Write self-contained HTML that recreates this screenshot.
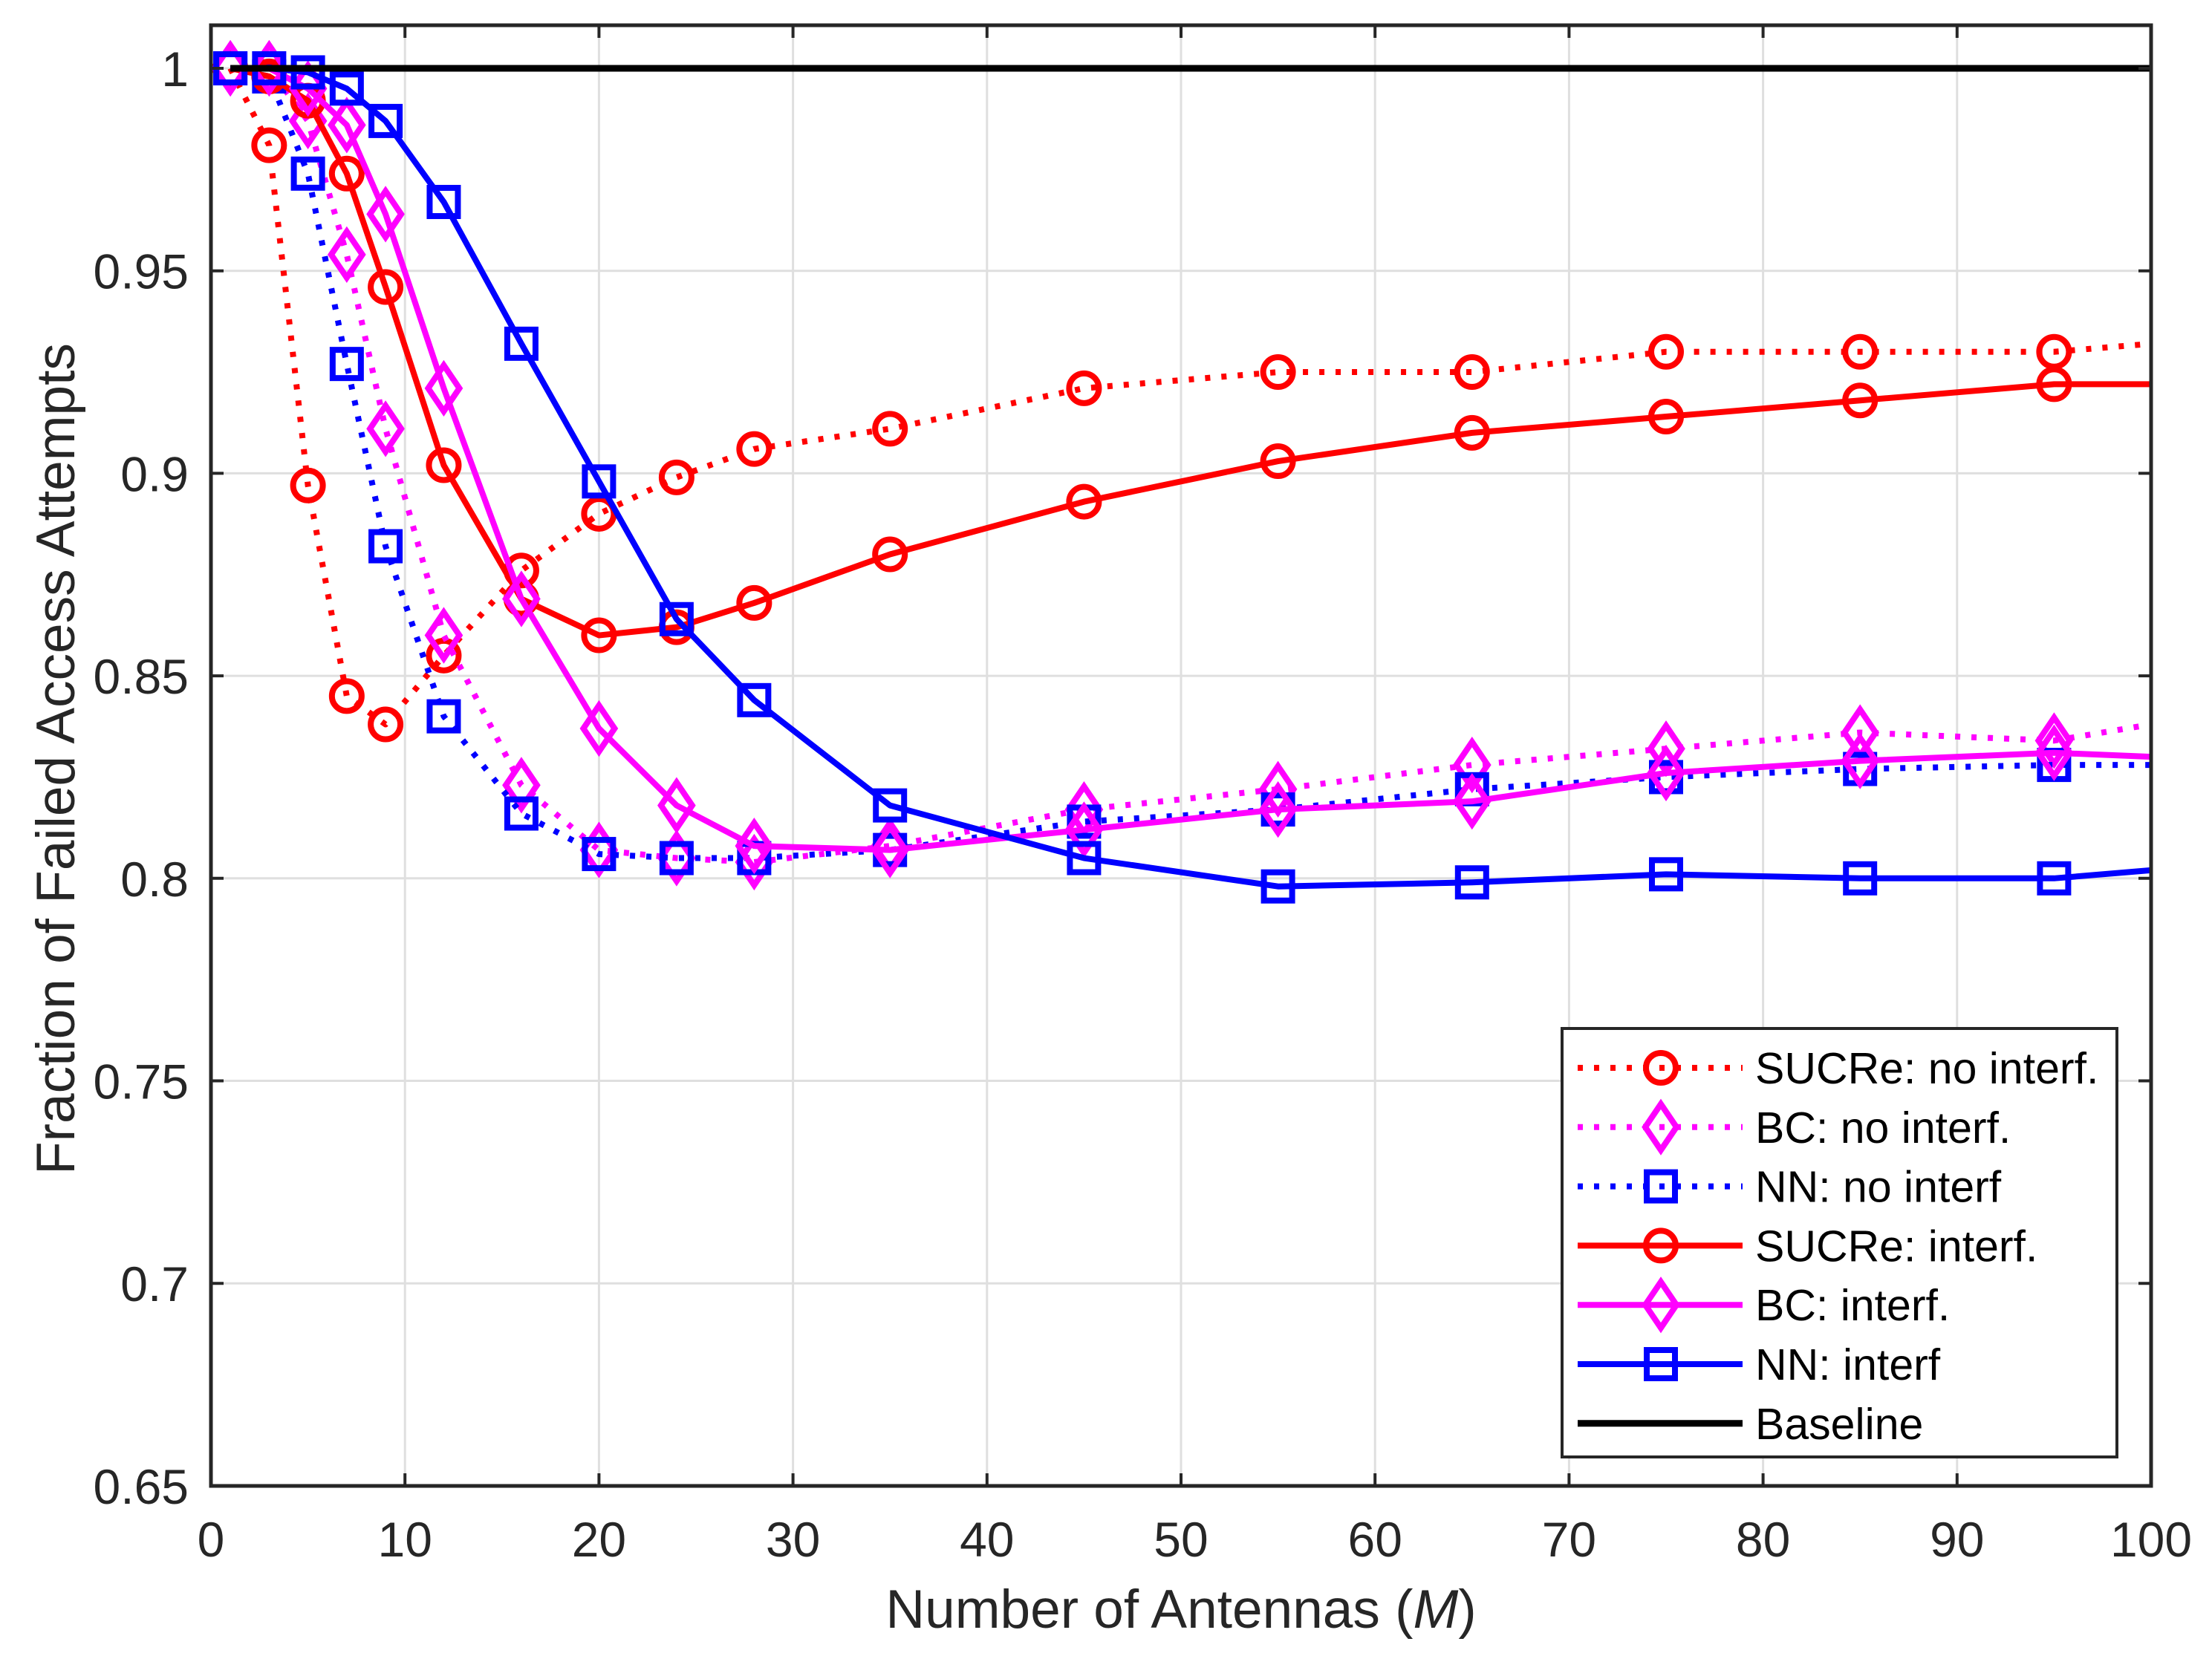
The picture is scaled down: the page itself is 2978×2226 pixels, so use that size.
<!DOCTYPE html>
<html><head><meta charset="utf-8"><style>
html,body{margin:0;padding:0;background:#fff;}
svg{display:block;font-family:"Liberation Sans",Arial,sans-serif;}
</style></head><body>
<svg id="chart" width="2978" height="2226" viewBox="0 0 2978 2226" xmlns="http://www.w3.org/2000/svg">
<rect width="2978" height="2226" fill="#fff"/>
<g id="grid"></g>
<g id="series"></g>
<g id="axes"></g>
<text x="1590" y="2192" font-size="73" text-anchor="middle" fill="#262626">Number of Antennas (<tspan font-style="italic">M</tspan>)</text>
<text transform="translate(100,1022) rotate(-90)" font-size="73" text-anchor="middle" fill="#262626">Fraction of Failed Access Attempts</text>
<g id="legend"></g>
</svg>
<script>
const xTicks=[0,10,20,30,40,50,60,70,80,90,100];
const yTicks=[0.65,0.7,0.75,0.8,0.85,0.9,0.95,1];
const yTickLabels=["0.65","0.7","0.75","0.8","0.85","0.9","0.95","1"];
const antennas=[1,3,5,7,9,12,16,20,24,28,35,45,55,65,75,85,95,100];
const sucreNoInterf=[1,0.981,0.897,0.845,0.838,0.855,0.876,0.890,0.899,0.906,0.911,0.921,0.925,0.925,0.930,0.930,0.930,0.932];
const bcNoInterf=[1,1,0.987,0.954,0.911,0.860,0.823,0.807,0.805,0.804,0.808,0.817,0.822,0.828,0.832,0.836,0.834,0.838];
const nnNoInterf=[1,0.998,0.974,0.927,0.882,0.840,0.816,0.806,0.805,0.805,0.807,0.814,0.817,0.822,0.825,0.827,0.828,0.828];
const sucreInterf=[1,0.998,0.992,0.974,0.946,0.902,0.869,0.860,0.862,0.868,0.880,0.893,0.903,0.910,0.914,0.918,0.922,0.922];
const bcInterf=[1,1,0.995,0.986,0.964,0.921,0.869,0.837,0.818,0.808,0.807,0.812,0.817,0.819,0.826,0.829,0.831,0.830];
const nnInterf=[1,1,0.999,0.995,0.987,0.967,0.932,0.898,0.864,0.844,0.818,0.805,0.798,0.799,0.801,0.800,0.800,0.802];
const baseline=[1,1,1,1,1,1,1,1,1,1,1,1,1,1,1,1,1,1];
const legendLabels=["SUCRe: no interf.","BC: no interf.","NN: no interf","SUCRe: interf.","BC: interf.","NN: interf","Baseline"];

const NS="http://www.w3.org/2000/svg";
const L=284,R=2896,T=34,B=2001;
const xs=v=>L+(v-0)/100*(R-L);
const ys=v=>92+(1-v)*5454;
function mk(tag,attrs,parent){const e=document.createElementNS(NS,tag);for(const k in attrs)e.setAttribute(k,attrs[k]);parent.appendChild(e);return e;}
const grid=document.getElementById('grid'),axes=document.getElementById('axes'),ser=document.getElementById('series'),leg=document.getElementById('legend');

xTicks.forEach(t=>{
  const x=xs(t);
  const g=mk('line',{x1:x,x2:x,y1:T,y2:B,stroke:'#dfdfdf','stroke-width':3},grid);
  
  
  mk('line',{x1:x,x2:x,y1:B,y2:B-17,stroke:'#262626','stroke-width':4},axes);
  mk('line',{x1:x,x2:x,y1:T,y2:T+17,stroke:'#262626','stroke-width':4},axes);
  const lb=mk('text',{x:x,y:B+95,'font-size':66,'text-anchor':'middle',fill:'#262626'},axes);
  lb.textContent=String(t);
  
  
});
yTicks.forEach((t,i)=>{
  const y=ys(t);
  const g=mk('line',{x1:L,x2:R,y1:y,y2:y,stroke:'#dfdfdf','stroke-width':3},grid);
  
  
  mk('line',{x1:L,x2:L+17,y1:y,y2:y,stroke:'#262626','stroke-width':4},axes);
  mk('line',{x1:R,x2:R-17,y1:y,y2:y,stroke:'#262626','stroke-width':4},axes);
  const lb=mk('text',{x:L-30,y:y+24,'font-size':66,'text-anchor':'end',fill:'#262626'},axes);
  lb.textContent=yTickLabels[i];
  
  
});
const frame=mk('rect',{x:L,y:T,width:R-L,height:B-T,fill:'none',stroke:'#262626','stroke-width':5},axes);



function marker(type,x,y,color,parent){
  let e;
  if(type==='o') e=mk('circle',{cx:x,cy:y,r:20,fill:'none',stroke:color,'stroke-width':8},parent);
  else if(type==='d') e=mk('polygon',{points:`${x},${y-31} ${x+21},${y} ${x},${y+31} ${x-21},${y}`,fill:'none',stroke:color,'stroke-width':8},parent);
  else if(type==='s') e=mk('rect',{x:x-19,y:y-19,width:38,height:38,fill:'none',stroke:color,'stroke-width':8},parent);
  return e;
}
const seriesDefs=[
 {name:'sucre-no-interf',vals:sucreNoInterf,color:'#ff0000',dash:'7 15',m:'o'},
 {name:'bc-no-interf',vals:bcNoInterf,color:'#ff00ff',dash:'7 15',m:'d'},
 {name:'nn-no-interf',vals:nnNoInterf,color:'#0000ff',dash:'7 15',m:'s'},
 {name:'sucre-interf',vals:sucreInterf,color:'#ff0000',dash:'',m:'o'},
 {name:'bc-interf',vals:bcInterf,color:'#ff00ff',dash:'',m:'d'},
 {name:'nn-interf',vals:nnInterf,color:'#0000ff',dash:'',m:'s'},
 {name:'baseline',vals:baseline,color:'#000000',dash:'',m:null}
];
seriesDefs.forEach(s=>{
  const g=mk('g',{},ser);
  
  
  const pts=antennas.map((a,i)=>xs(a)+','+ys(s.vals[i])).join(' ');
  const a={points:pts,fill:'none',stroke:s.color,'stroke-width':s.m?8:9,'stroke-linejoin':'round'};
  if(s.dash)a['stroke-dasharray']=s.dash;
  const pl=mk('polyline',a,g);
  
  
  if(s.m){
    antennas.forEach((x,i)=>{
      if(x===100)return;
      const m=marker(s.m,xs(x),ys(s.vals[i]),s.color,g);
      
      
    });
  }
});
// legend
const lbox=mk('rect',{x:2103,y:1385,width:747,height:577,fill:'#fff',stroke:'#262626','stroke-width':4},leg);


seriesDefs.forEach((s,i)=>{
  const y=1438+i*79.8;
  const g=mk('g',{},leg);
  
  
  const a={x1:2124,x2:2346,y1:y,y2:y,stroke:s.color,'stroke-width':s.m?8:9};
  if(s.dash)a['stroke-dasharray']=s.dash;
  mk('line',a,g);
  if(s.m)marker(s.m,2236,y,s.color,g);
  const t=mk('text',{x:2363,y:y+21,'font-size':59,fill:'#000'},g);
  t.textContent=legendLabels[i];
});
</script>
</body></html>
